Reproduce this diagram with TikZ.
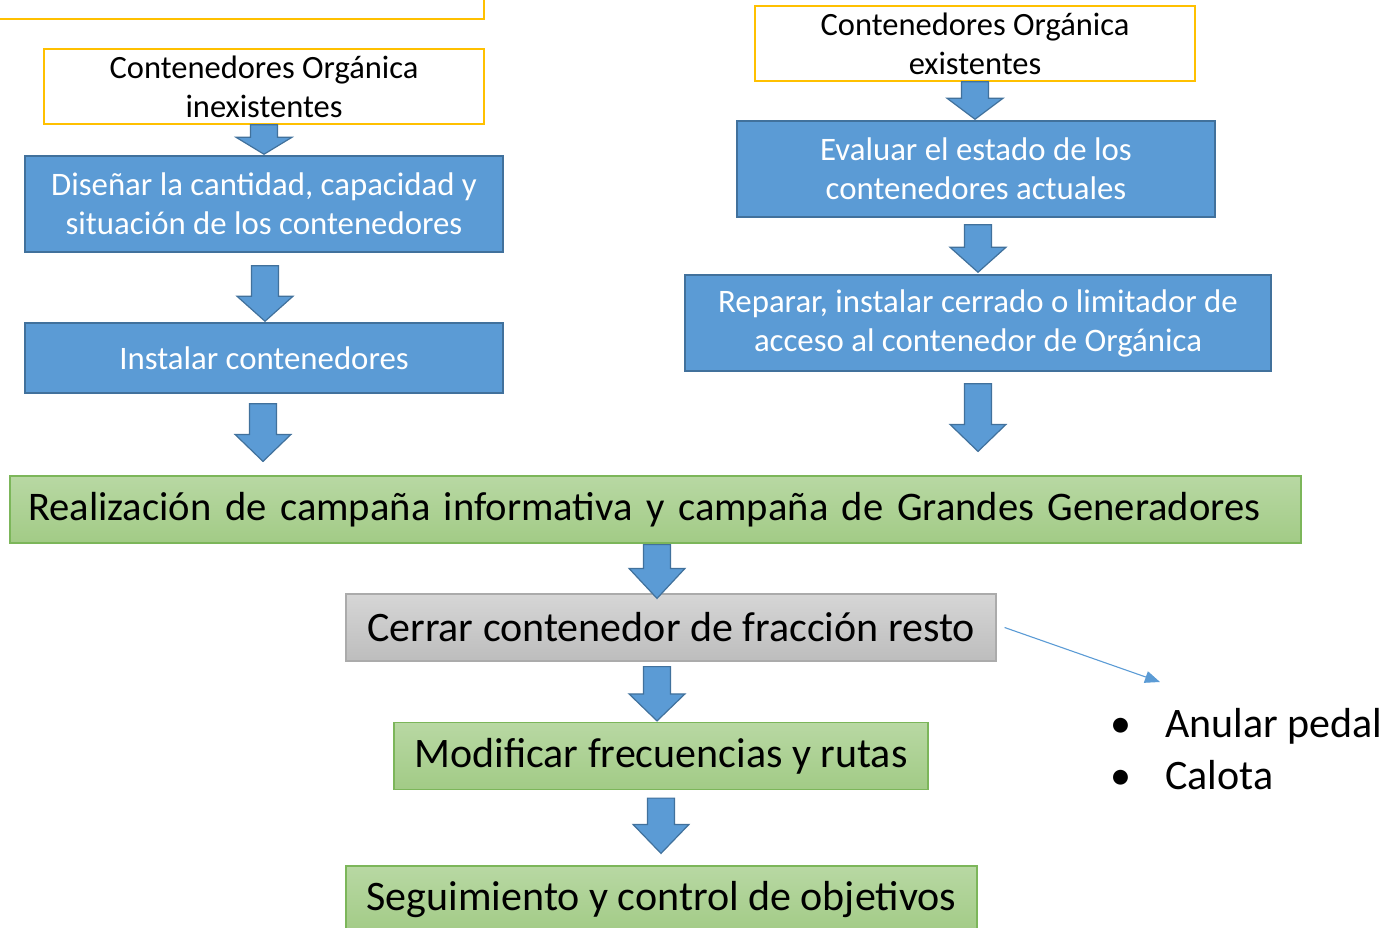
\documentclass[tikz,border=0pt]{standalone}
\usepackage{fontspec}
\setmainfont{Carlito}
\usetikzlibrary{calc,arrows.meta,positioning}

\definecolor{bluefill}{HTML}{5B9BD5}
\definecolor{blueline}{HTML}{41719C}
\definecolor{orgyellow}{HTML}{FFC000}
\definecolor{greentop}{HTML}{B8D8A3}
\definecolor{greenbot}{HTML}{A2CB86}
\definecolor{greenline}{HTML}{7CB65A}
\definecolor{graytop}{HTML}{D6D6D6}
\definecolor{graybot}{HTML}{BDBDBD}
\definecolor{grayline}{HTML}{ABABAB}

\tikzset{
  orgbox/.style={draw=orgyellow, line width=1.5pt, fill=white, align=center,
    font=\fontsize{32.5}{39}\selectfont, inner sep=0pt},
  taskbox/.style={draw=blueline, line width=1.5pt, fill=bluefill, text=white,
    align=center, font=\fontsize{32.8}{39}\selectfont, inner sep=0pt},
  stagebox/.style={draw=greenline, line width=1.2pt, top color=greentop,
    bottom color=greenbot, font=\fontsize{42}{50}\selectfont, inner sep=0pt},
  closebox/.style={draw=grayline, line width=1.2pt, top color=graytop,
    bottom color=graybot, font=\fontsize{42}{50}\selectfont, inner sep=0pt},
  blkarr/.style={draw=blueline, line width=1.2pt, fill=bluefill, line join=miter},
  thinarr/.style={draw=bluefill, line width=1.1pt, -{Triangle[length=15pt,width=12pt]}},
  bulletitem/.style={font=\fontsize{42}{50}\selectfont, inner sep=0pt, anchor=base west}
}

% block arrow: #1 head length, #2 start, #3 tip
\newcommand{\blkarrow}[3][27]{%
  \draw[blkarr] let \p1=(#2), \p2=(#3) in
    (\x1-13.5pt,\y1) -- (\x1+13.5pt,\y1) -- (\x1+13.5pt,\y2+#1pt)
    -- (\x1+28pt,\y2+#1pt) -- (\x1,\y2) -- (\x1-28pt,\y2+#1pt)
    -- (\x1-13.5pt,\y2+#1pt) -- cycle;}

\begin{document}
\begin{tikzpicture}[x=1pt,y=-1pt]
  \useasboundingbox (0,0) rectangle (1385,928);
  \clip (0,0) rectangle (1385,928);

  % left branch
  \draw[orgbox] (-20,-40) rectangle (484,19);
  \node[orgbox, minimum width=440, minimum height=75] (inexist) at (264,86.5)
    {Contenedores Orgánica\\inexistentes};
  \node[taskbox, minimum width=478, minimum height=96] (disenar) at (264,204)
    {Diseñar la cantidad, capacidad y\\situación de los contenedores};
  \node[taskbox, minimum width=478, minimum height=70] (instalar) at (264,358)
    {Instalar contenedores};

  % right branch
  \node[orgbox, minimum width=440, minimum height=75] (exist) at (975,43.5)
    {Contenedores Orgánica\\existentes};
  \node[taskbox, minimum width=478, minimum height=96] (evaluar) at (976,169)
    {Evaluar el estado de los\\contenedores actuales};
  \node[taskbox, minimum width=586, minimum height=96] (reparar) at (978,323)
    {Reparar, instalar cerrado o limitador de\\acceso al contenedor de Orgánica};

  % common stages
  \node[stagebox, minimum width=1291, minimum height=67, text width=1255,
    align=left, font=\fontsize{40.6}{50}\selectfont] (campana) at (655.5,509.5)
    {\mbox{Realización de campaña informativa y campaña de Grandes Generadores}};
  \node[closebox, minimum width=650, minimum height=67] (cerrar) at (671,627.5)
    {Cerrar contenedor de fracción resto};
  \node[stagebox, minimum width=534, minimum height=67] (modificar) at (661,756)
    {Modificar frecuencias y rutas};
  \node[stagebox, minimum width=631, minimum height=67] (seguim) at (661.5,899.5)
    {Seguimiento y control de objetivos};

  % measures on the closed container
  \node[bulletitem] (pedal) at (1110,737)
    {\makebox[55pt][l]{•}Anular pedal};
  \node[bulletitem, below=52pt of pedal.base west, anchor=base west] (calota)
    {\makebox[55pt][l]{•}Calota};
  \coordinate (medidas) at (1160,682);

  % block arrows
  \blkarrow[17]{inexist.south}{$(disenar.north)+(0,-1)$}
  \blkarrow[25]{$(disenar.south)+(1,13)$}{$(instalar.north)+(1,-1)$}
  \blkarrow{$(instalar.south)+(-1,10)$}{$(instalar.south |- campana.north)+(-1,-14)$}
  \blkarrow[21]{exist.south}{$(exist.south |- evaluar.north)+(0,-1)$}
  \blkarrow[25]{$(evaluar.south)+(2,7)$}{$(reparar.north)+(0,-2)$}
  \blkarrow{$(reparar.south)+(0,12)$}{$(reparar.south |- campana.north)+(0,-24)$}
  \blkarrow[30]{$(campana.south)+(1.5,1)$}{$(campana.south |- cerrar.north)+(1.5,5)$}
  \blkarrow{$(cerrar.south)+(-14,5)$}{$(cerrar.south |- modificar.north)+(-14,-1)$}
  \blkarrow[29]{$(modificar.south)+(0,8)$}{$(modificar.south |- seguim.north)+(0,-12)$}

  \draw[thinarr] ([xshift=8pt]cerrar.east) -- (medidas);
\end{tikzpicture}
\end{document}
